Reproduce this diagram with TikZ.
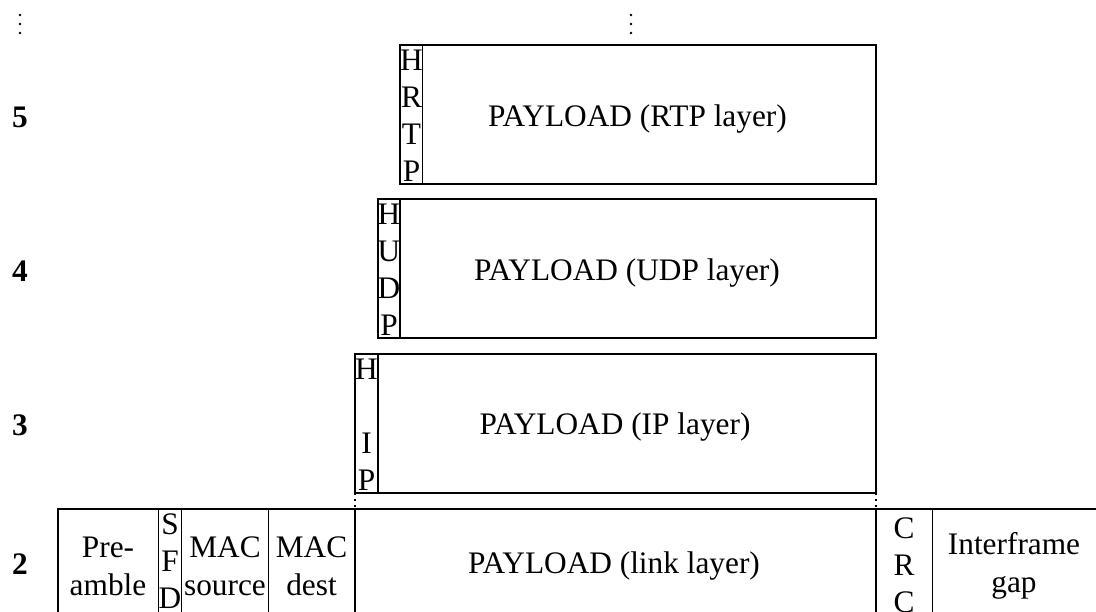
\documentclass[tikz,border=0pt]{standalone}
\usepackage{fontspec}
\setmainfont{Liberation Serif}
\begin{document}
\begin{tikzpicture}[x=0.75pt,y=-0.75pt,
  box/.style={draw,line width=1.1pt},
  lbl/.style={font=\fontsize{23.5}{28.5}\selectfont, align=center, inner sep=0pt},
  vlbl/.style={font=\fontsize{23.5}{27.8}\selectfont, align=center, inner sep=0pt},
  num/.style={font=\fontsize{23.5}{28}\selectfont\bfseries, inner sep=0pt},
  dotline/.style={line width=1.3pt, dash pattern=on 1.3pt off 3.2pt}]
\useasboundingbox (0,0) rectangle (1096,611);
\clip (0,0) rectangle (1096,611);

% top ellipses
\foreach \yy in {15,24,33} {
  \fill (20,\yy) circle (1.1pt);
  \fill (631,\yy) circle (1.1pt);
}

% row numbers
\node[num] (n5) at (20,117) {5};
\node[num] (n4) at (20,271) {4};
\node[num] (n3) at (20,425) {3};
\node[num] (n2) at (20,564) {2};

% row 5 (RTP)
\coordinate (r5a) at (400,45);
\coordinate (r5b) at (876,184);
\draw[box] (r5a) rectangle (r5b);
\draw[box] (422.5,45) -- (422.5,184);
\node[vlbl] (h5) at (411.5,116) {H\\R\\T\\P};
\node[lbl] (p5) at (637.5,119) {PAYLOAD (RTP layer)};

% row 4 (UDP)
\coordinate (r4a) at (378,199);
\coordinate (r4b) at (876,338);
\draw[box] (r4a) rectangle (r4b);
\draw[box] (400,199) -- (400,338);
\node[vlbl] (h4) at (389,270) {H\\U\\D\\P};
\node[lbl] (p4) at (627,273) {PAYLOAD (UDP layer)};

% row 3 (IP)
\coordinate (r3a) at (355,354);
\coordinate (r3b) at (876,493);
\coordinate (r3sw) at (355,493);
\draw[box] (r3a) rectangle (r3b);
\draw[box] (378,354) -- (378,493);
\node[vlbl] (h3) at (366.5,425) {H\\\mbox{}\\I\\P};
\node[lbl] (p3) at (615,427) {PAYLOAD (IP layer)};

% row 2 (link)
\coordinate (r2a) at (58,509);
\coordinate (r2b) at (1110,620);
\draw[box] (r2a) rectangle (r2b);
\foreach \xx in {158.5,181.7,268.5,355,876,932.5}
  \draw[box] (\xx,509) -- (\xx,620);
\coordinate (l2a) at (355,509);
\coordinate (l2b) at (876,509);

\node[lbl] (pre) at (108,566) {Pre-\\amble};
\node[vlbl] (sfd) at (170,561) {S\\F\\D};
\node[lbl] (macs) at (225,566) {MAC\\source};
\node[lbl] (macd) at (311.5,566) {MAC\\dest};
\node[lbl] (p2) at (614,566) {PAYLOAD (link layer)};
\node[vlbl] (crc) at (904,565) {C\\R\\C};
\node[lbl] (ifg) at (1014,566) {Interframe\\gap};

% dotted connectors
\draw[dotline] (r3sw) -- (l2a);
\draw[dotline] (r3b) -- (l2b);
\end{tikzpicture}
\end{document}
